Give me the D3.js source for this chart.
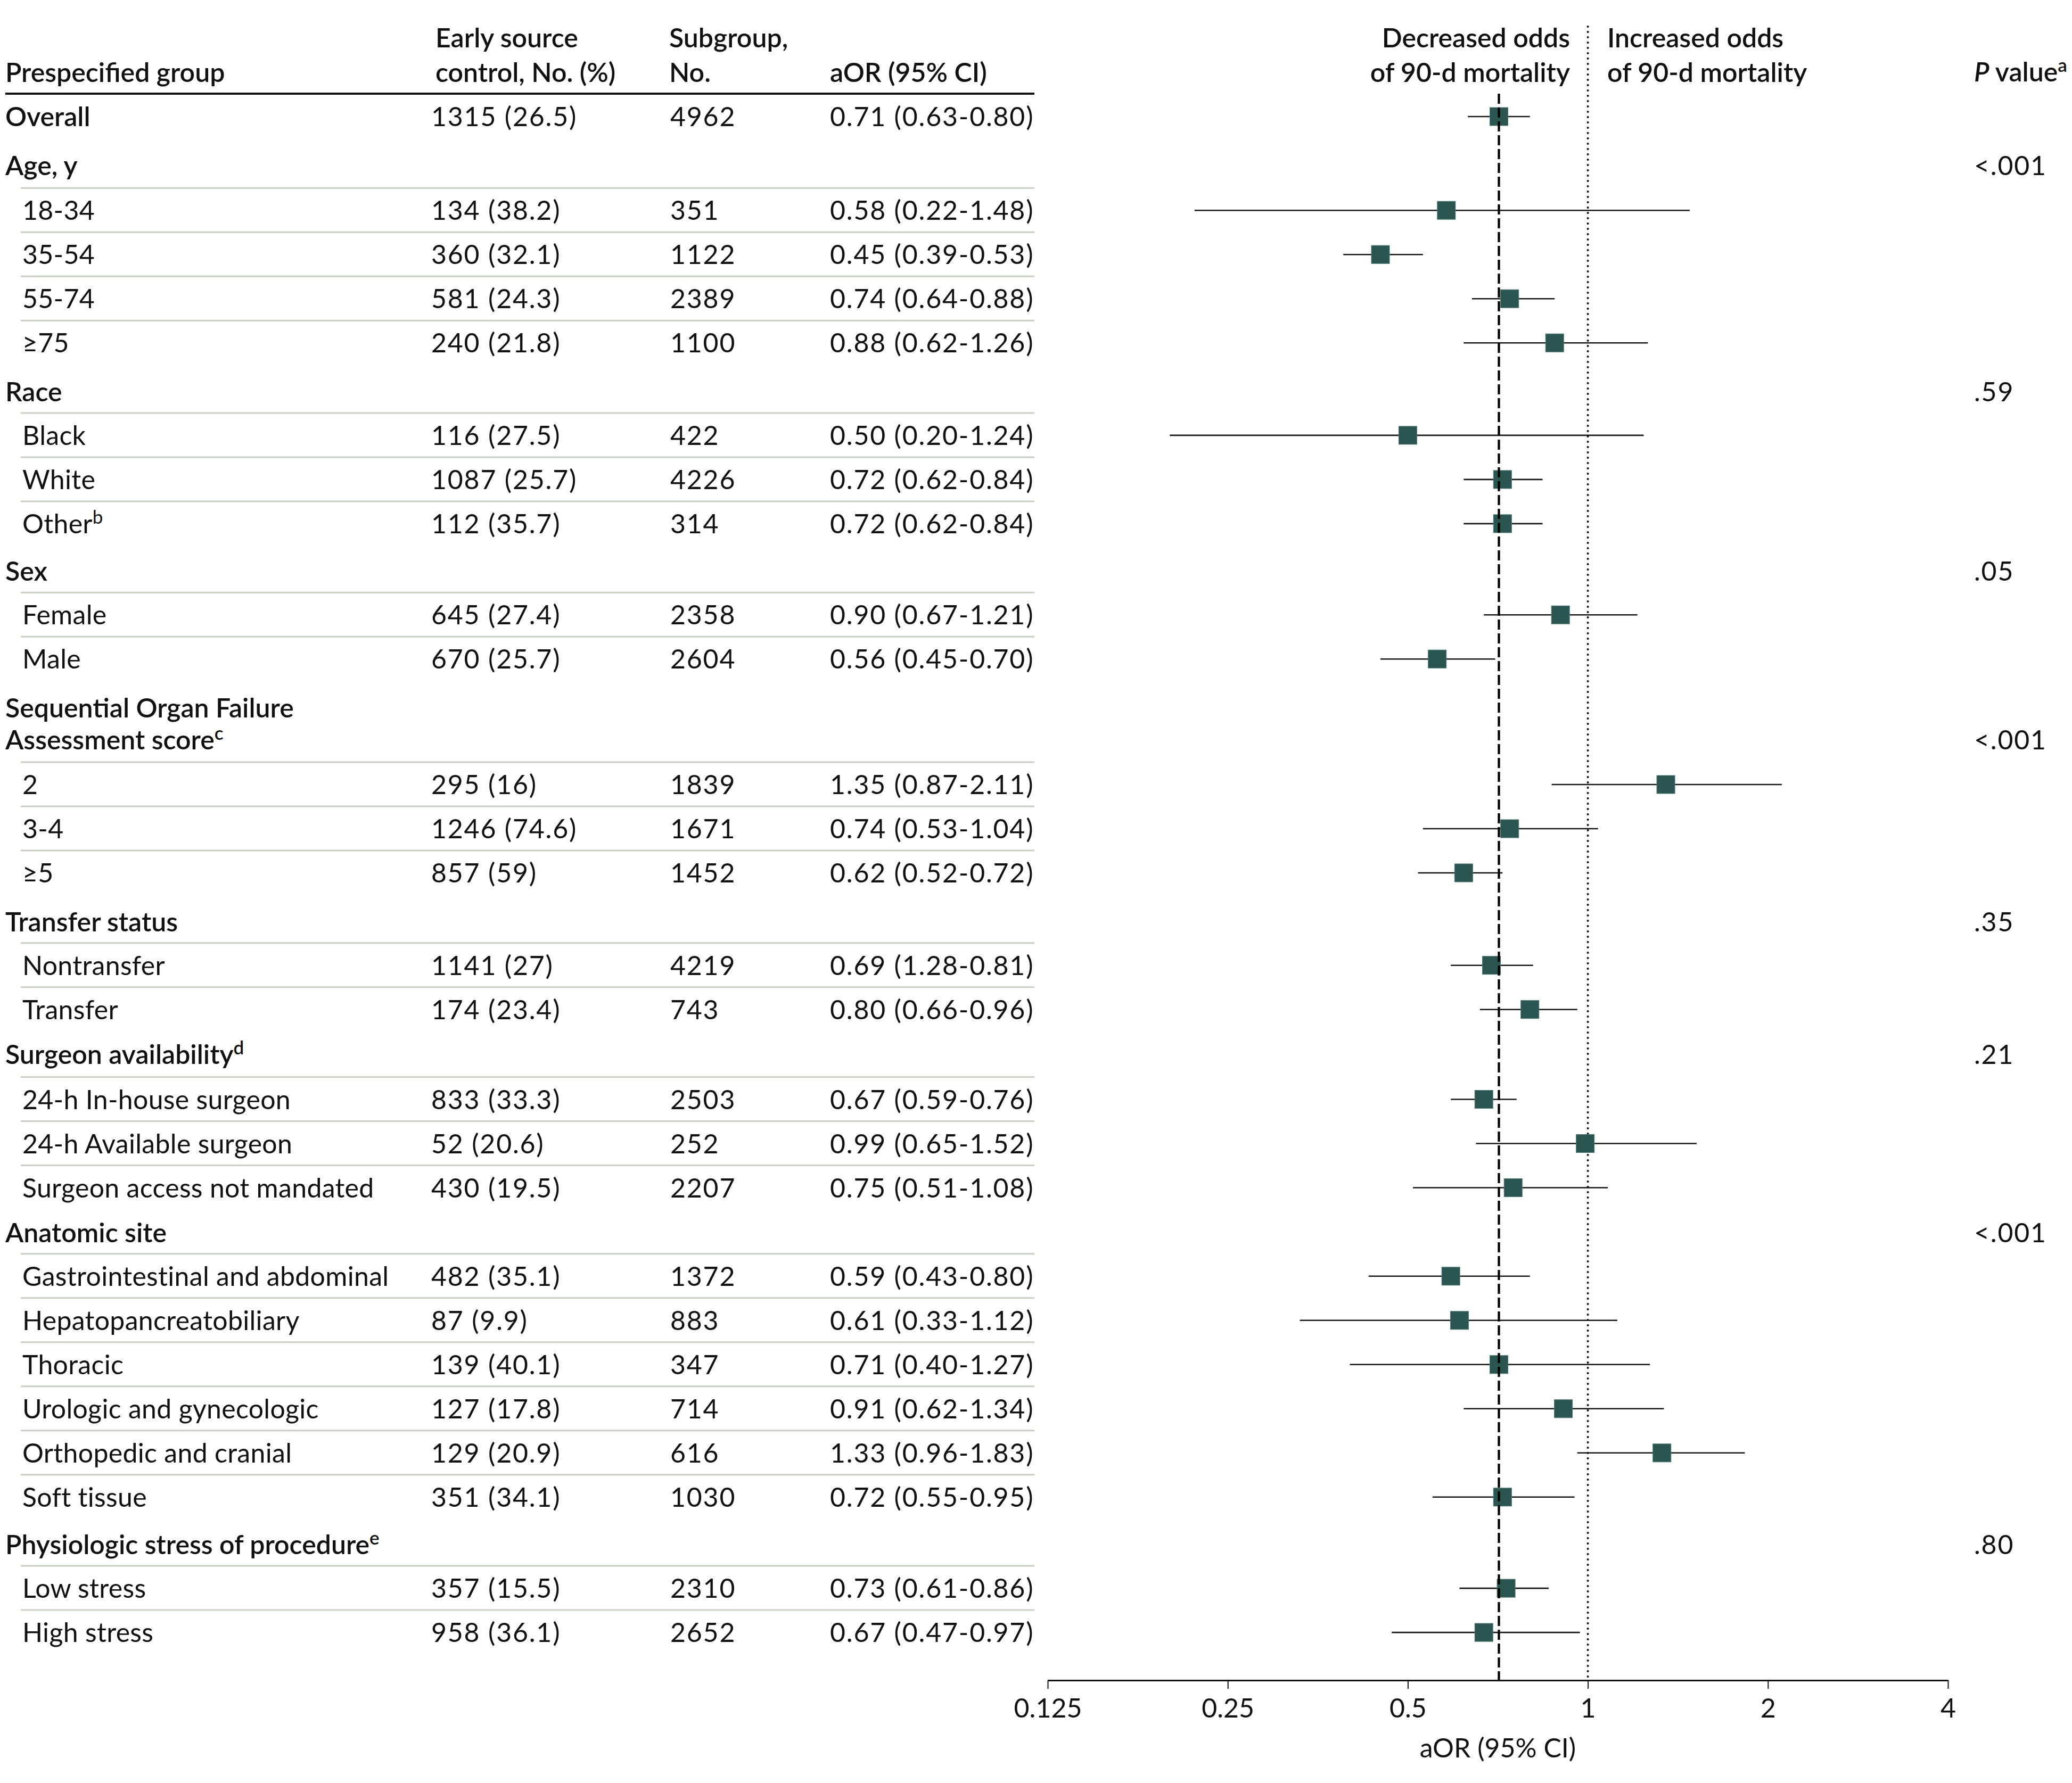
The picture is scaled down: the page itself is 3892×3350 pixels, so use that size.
<!DOCTYPE html>
<html><head><meta charset="utf-8">
<script src="https://cdn.jsdelivr.net/npm/d3@7"></script>
<style>
body{margin:0;background:#fff}
svg text{font-family:Lato,"Open Sans",sans-serif;fill:#111}
</style>
</head><body>
<svg id="chart"></svg>
<script>
// ---------- data ----------
const rowLabels = ["Overall","18-34","35-54","55-74","≥75","Black","White","Other","Female","Male","2","3-4","≥5","Nontransfer","Transfer","24-h In-house surgeon","24-h Available surgeon","Surgeon access not mandated","Gastrointestinal and abdominal","Hepatopancreatobiliary","Thoracic","Urologic and gynecologic","Orthopedic and cranial","Soft tissue","Low stress","High stress"];
const rowLabelSup = ["","","","","","","","b","","","","","","","","","","","","","","","","","",""];
const rowGroup = [-1,0,0,0,0,1,1,1,2,2,3,3,3,4,4,5,5,5,6,6,6,6,6,6,7,7];
const earlyControl = ["1315 (26.5)","134 (38.2)","360 (32.1)","581 (24.3)","240 (21.8)","116 (27.5)","1087 (25.7)","112 (35.7)","645 (27.4)","670 (25.7)","295 (16)","1246 (74.6)","857 (59)","1141 (27)","174 (23.4)","833 (33.3)","52 (20.6)","430 (19.5)","482 (35.1)","87 (9.9)","139 (40.1)","127 (17.8)","129 (20.9)","351 (34.1)","357 (15.5)","958 (36.1)"];
const subgroupN = ["4962","351","1122","2389","1100","422","4226","314","2358","2604","1839","1671","1452","4219","743","2503","252","2207","1372","883","347","714","616","1030","2310","2652"];
const aorLabel = ["0.71 (0.63-0.80)","0.58 (0.22-1.48)","0.45 (0.39-0.53)","0.74 (0.64-0.88)","0.88 (0.62-1.26)","0.50 (0.20-1.24)","0.72 (0.62-0.84)","0.72 (0.62-0.84)","0.90 (0.67-1.21)","0.56 (0.45-0.70)","1.35 (0.87-2.11)","0.74 (0.53-1.04)","0.62 (0.52-0.72)","0.69 (1.28-0.81)","0.80 (0.66-0.96)","0.67 (0.59-0.76)","0.99 (0.65-1.52)","0.75 (0.51-1.08)","0.59 (0.43-0.80)","0.61 (0.33-1.12)","0.71 (0.40-1.27)","0.91 (0.62-1.34)","1.33 (0.96-1.83)","0.72 (0.55-0.95)","0.73 (0.61-0.86)","0.67 (0.47-0.97)"];
const aorValue = [0.71,0.58,0.45,0.74,0.88,0.50,0.72,0.72,0.90,0.56,1.35,0.74,0.62,0.69,0.80,0.67,0.99,0.75,0.59,0.61,0.71,0.91,1.33,0.72,0.73,0.67];
const ciLow  = [0.63,0.22,0.39,0.64,0.62,0.20,0.62,0.62,0.67,0.45,0.87,0.53,0.52,0.59,0.66,0.59,0.65,0.51,0.43,0.33,0.40,0.62,0.96,0.55,0.61,0.47];
const ciHigh = [0.80,1.48,0.53,0.88,1.26,1.24,0.84,0.84,1.21,0.70,2.11,1.04,0.72,0.81,0.96,0.76,1.52,1.08,0.80,1.12,1.27,1.34,1.83,0.95,0.86,0.97];

const groupLines = [["Age, y"],["Race"],["Sex"],["Sequential Organ Failure","Assessment score"],["Transfer status"],["Surgeon availability"],["Anatomic site"],["Physiologic stress of procedure"]];
const groupSup = ["","","","c","","d","","e"];
const groupP = ["<.001",".59",".05","<.001",".35",".21","<.001",".80"];

const tickValues = [0.125,0.25,0.5,1,2,4];
const tickLabels = ["0.125","0.25","0.5","1","2","4"];
const overallRef = 0.71;
const nullRef = 1;

// ---------- layout ----------
const W = 3892, H = 3350;
const FS = 50, SUP = 35;
const NUM_LS = 1.8, LAB_LS = 0.3;
const colLabel = 10, colSub = 42, colEarly = 810, colN = 1259, colAor = 1559, colP = 3708;
const tableRight = 1943;
const firstBase = 237, gapRow = 83, gapLine = 59.6;
const gapBeforeHeader = [91.8, 91.8, 89.4, 91.8, 91.8, 84.4, 84.4, 89.4];
const gapAfterHeader  = [84.4, 81.9, 81.9, 84.4, 81.9, 84.4, 81.9, 81.9];
const centerOff = 18;

const svg = d3.select("#chart").attr("width", W).attr("height", H);
svg.append("rect").attr("width", W).attr("height", H).attr("fill", "#fff");

const x = d3.scaleLog().base(2).domain([0.125, 4]).range([1968, 3659]);
const axisY = 3157;

// compute row baselines
const rowBase = [];
const headers = [];
let yb = firstBase;
rowGroup.forEach((g, i) => {
  if (i === 0) { rowBase.push(yb); return; }
  if (g !== rowGroup[i - 1]) {
    yb += gapBeforeHeader[g];
    const lines = groupLines[g].map((t, k) => ({ t, y: yb + k * gapLine }));
    yb += (groupLines[g].length - 1) * gapLine;
    headers.push({ g, lines });
    yb += gapAfterHeader[g];
  } else {
    yb += gapRow;
  }
  rowBase.push(yb);
});

// ---------- header ----------
const hdr = svg.append("g").attr("font-size", FS).attr("font-weight", 600);
function htext(t, xx, yy, anchor) {
  return hdr.append("text").attr("x", xx).attr("y", yy).attr("text-anchor", anchor || "start").text(t);
}
htext("Prespecified group", colLabel, 154);
htext("Early source", colEarly + 8, 89);
htext("control, No. (%)", colEarly + 8, 154);
htext("Subgroup,", colN - 2, 89);
htext("No.", colN - 2, 154);
htext("aOR (95% CI)", colAor, 154);
htext("Decreased odds", 2949, 89, "end");
htext("of 90-d mortality", 2949, 154, "end");
htext("Increased odds", 3019, 89);
htext("of 90-d mortality", 3019, 154);
const pv = hdr.append("text").attr("x", colP).attr("y", 153);
pv.append("tspan").attr("font-style", "italic").text("P");
pv.append("tspan").text(" value");
pv.append("tspan").attr("font-size", SUP).attr("dy", -18).text("a");

svg.append("line").attr("x1", colLabel).attr("x2", tableRight).attr("y1", 176).attr("y2", 176)
  .attr("stroke", "#111").attr("stroke-width", 4);

// ---------- separators ----------
svg.append("g").selectAll("line").data(rowBase.map((b, i) => ({ b, i })).filter(d => rowGroup[d.i] >= 0))
  .join("line")
  .attr("x1", 39).attr("x2", tableRight)
  .attr("y1", d => d.b - 60).attr("y2", d => d.b - 60)
  .attr("stroke", "#c9cfc2").attr("stroke-width", 3);

// ---------- group headers ----------
const gh = svg.append("g").attr("font-size", FS).attr("font-weight", 600);
headers.forEach(h => {
  h.lines.forEach((ln, k) => {
    const t = gh.append("text").attr("x", colLabel).attr("y", ln.y).text(ln.t);
    if (k === h.lines.length - 1 && groupSup[h.g]) {
      t.append("tspan").attr("font-size", SUP).attr("dy", -18).text(groupSup[h.g]);
    }
  });
  const last = h.lines[h.lines.length - 1];
  svg.append("text").attr("x", colP).attr("y", last.y).attr("font-size", FS)
    .attr("letter-spacing", NUM_LS).text(groupP[h.g]);
});

// ---------- rows text ----------
const rows = svg.append("g").attr("font-size", FS);
rowLabels.forEach((lab, i) => {
  const t = rows.append("text").attr("x", rowGroup[i] < 0 ? colLabel : colSub).attr("y", rowBase[i])
    .attr("font-weight", rowGroup[i] < 0 ? 600 : 400)
    .attr("letter-spacing", rowGroup[i] < 0 ? 0 : LAB_LS).text(lab);
  if (rowLabelSup[i]) t.append("tspan").attr("font-size", SUP).attr("dy", -18).text(rowLabelSup[i]);
  rows.append("text").attr("x", colEarly).attr("y", rowBase[i]).attr("letter-spacing", NUM_LS).text(earlyControl[i]);
  rows.append("text").attr("x", colN).attr("y", rowBase[i]).attr("letter-spacing", NUM_LS).text(subgroupN[i]);
  rows.append("text").attr("x", colAor).attr("y", rowBase[i]).attr("letter-spacing", NUM_LS).text(aorLabel[i]);
});

// ---------- reference lines ----------
svg.append("line").attr("x1", x(nullRef)).attr("x2", x(nullRef)).attr("y1", 50).attr("y2", axisY)
  .attr("stroke", "#000").attr("stroke-width", 4).attr("stroke-dasharray", "0,10").attr("stroke-linecap", "round");

// ---------- CI lines ----------
const plot = svg.append("g");
plot.selectAll("line.ci").data(aorValue.map((v, i) => i)).join("line").attr("class", "ci")
  .attr("x1", i => x(ciLow[i])).attr("x2", i => x(ciHigh[i]))
  .attr("y1", i => rowBase[i] - centerOff).attr("y2", i => rowBase[i] - centerOff)
  .attr("stroke", "#161616").attr("stroke-width", 2.6);

svg.append("line").attr("x1", x(overallRef)).attr("x2", x(overallRef)).attr("y1", 176).attr("y2", axisY)
  .attr("stroke", "#000").attr("stroke-width", 4.3).attr("stroke-dasharray", "19,7");

// ---------- markers ----------
const MS = 34;
plot.selectAll("rect.pt").data(aorValue.map((v, i) => i)).join("rect").attr("class", "pt")
  .attr("x", i => x(aorValue[i]) - MS / 2).attr("y", i => rowBase[i] - centerOff - MS / 2)
  .attr("width", MS).attr("height", MS)
  .attr("fill", "#2a5551").attr("stroke", "#4e7a75").attr("stroke-width", 1);

// ---------- axis ----------
const ax = svg.append("g").attr("transform", `translate(0,${axisY})`)
  .call(d3.axisBottom(x).tickValues(tickValues).tickFormat((d, i) => tickLabels[i]).tickSize(16).tickSizeOuter(0));
ax.select(".domain").attr("stroke", "#111").attr("stroke-width", 3);
ax.selectAll(".tick line").attr("stroke", "#111").attr("stroke-width", 2);
ax.selectAll(".tick text").attr("font-size", FS).attr("font-family", "Lato,'Open Sans',sans-serif")
  .attr("fill", "#111").attr("y", 70).attr("dy", 0);
ax.attr("font-family", null).attr("font-size", null);

svg.append("text").attr("x", (x.range()[0] + x.range()[1]) / 2).attr("y", 3302)
  .attr("text-anchor", "middle").attr("font-size", FS).text("aOR (95% CI)");
</script>
</body></html>
